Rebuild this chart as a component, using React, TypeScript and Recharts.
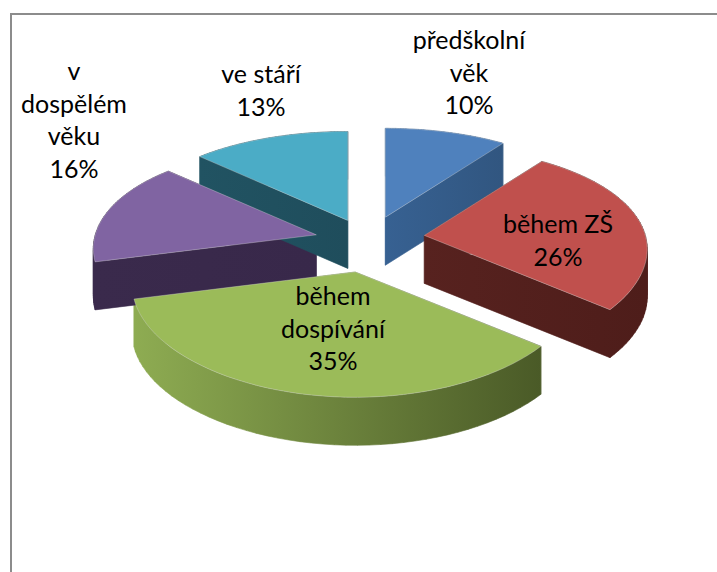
import React from "react";
import { PieChart, Pie } from "recharts";

const categories = ["předškolní věk", "během ZŠ", "během dospívání", "v dospělém věku", "ve stáří"];
const values = [10, 26, 35, 16, 13];
const labelLines = [["předškolní", "věk"], ["během ZŠ"], ["během", "dospívání"], ["v", "dospělém", "věku"], ["ve stáří"]];
const explosionX = [1.1, 1.07, 1.0, 0.97, 0.9];
const explosionY = [1.0, 1.8, 1.27, 0.99, 0.9];

const topColors = ["#4F81BD", "#C0504D", "#9BBB59", "#8064A2", "#4BACC6"];
const wallStops = [
  ["#376192", "#315680"],
  ["#57221f", "#4e1d1a"],
  ["#8eac52", "#4a5a27"],
  ["#3a2a4c", "#38284a"],
  ["#215362", "#1f4d5c"],
];

// layout of the 3D projection
const CX = 367, CY = 241, R = 221;
const B = 104, PX = 0.13, PY = 0.17, EX = 54, EY = 25, DEPTH = 48;
// label centres relative to the pie centre (first line baseline middle)
const labelOffsets = [[102, -192], [191, -8], [-34, 64], [-293, -161], [-106, -158]];
const LINE = 32.5;

const data = categories.map((name, idx) => ({ name, value: values[idx], idx }));

const rad = (a: number) => (a * Math.PI) / 180;

function outline(p: any) {
  const idx = p.idx ?? p.payload?.idx ?? 0;
  const mid = rad((p.startAngle + p.endAngle) / 2);
  const ax = p.cx + EX * explosionX[idx] * Math.cos(mid);
  const ay = p.cy - EY * explosionY[idx] * Math.sin(mid);
  const r = p.outerRadius;
  const pts: [number, number][] = [[ax, ay]];
  const n = 48;
  for (let i = 0; i <= n; i++) {
    const a = rad(p.startAngle + ((p.endAngle - p.startAngle) * i) / n);
    const u = Math.cos(a), v = -Math.sin(a);
    pts.push([ax + (u * r) / (1 - PX * v), ay + (v * B) / (1 - PY * v)]);
  }
  return { idx, pts };
}

function TopFace(p: any) {
  const { idx, pts } = outline(p);
  const d = "M" + pts.map((q) => `${q[0].toFixed(1)},${q[1].toFixed(1)}`).join("L") + "Z";
  return <path d={d} fill={topColors[idx]} stroke="#d8d8d8" strokeOpacity={0.45} strokeWidth={0.8} />;
}

function WallFace(p: any) {
  const { idx, pts } = outline(p);
  let d = "";
  const closed = [...pts, pts[0]];
  for (let i = 0; i < closed.length - 1; i++) {
    let a = closed[i], b = closed[i + 1];
    if (b[0] < a[0]) {
      const t = a;
      a = b;
      b = t;
    }
    d += `M${a[0].toFixed(1)},${a[1].toFixed(1)}L${b[0].toFixed(1)},${b[1].toFixed(1)}L${b[0].toFixed(1)},${(b[1] + DEPTH).toFixed(1)}L${a[0].toFixed(1)},${(a[1] + DEPTH).toFixed(1)}Z`;
  }
  const id = `wall${idx}`;
  return (
    <g>
      <defs>
        <linearGradient id={id} x1="0" y1="0" x2="1" y2="0">
          <stop offset="0" stopColor={wallStops[idx][0]} />
          <stop offset="1" stopColor={wallStops[idx][1]} />
        </linearGradient>
      </defs>
      <path d={d} fill={`url(#${id})`} stroke={`url(#${id})`} strokeWidth={0.6} />
    </g>
  );
}

function SliceLabel(p: any) {
  const idx = p.idx ?? p.payload?.idx ?? p.index ?? 0;
  const [dx, dy] = labelOffsets[idx];
  const lines = [...labelLines[idx], `${values[idx]}%`];
  return (
    <text x={p.cx + dx} y={p.cy + dy} textAnchor="middle" fontFamily="Lato" fontSize={25} fill="#000">
      {lines.map((t, i) => (
        <tspan key={i} x={p.cx + dx} y={p.cy + dy + i * LINE}>
          {t}
        </tspan>
      ))}
    </text>
  );
}

export default function App() {
  return (
    <div style={{ position: "fixed", left: 0, top: 0, width: 717, height: 572, background: "#fff", overflow: "hidden" }}>
      <div style={{ position: "absolute", left: 10, top: 13, width: 707, height: 559, borderLeft: "2px solid #8c8c8c", borderTop: "2px solid #8c8c8c", boxSizing: "border-box" }} />
      <div style={{ position: "absolute", left: 0, top: 0 }}>
        <PieChart width={717} height={572} margin={{ top: 0, right: 0, bottom: 0, left: 0 }}>
          <Pie data={data} dataKey="value" nameKey="name" cx={CX} cy={CY} outerRadius={R} startAngle={90} endAngle={-270} isAnimationActive={false} shape={WallFace} label={false} labelLine={false} />
          <Pie data={data} dataKey="value" nameKey="name" cx={CX} cy={CY} outerRadius={R} startAngle={90} endAngle={-270} isAnimationActive={false} shape={TopFace} label={SliceLabel} labelLine={false} />
        </PieChart>
      </div>
    </div>
  );
}
